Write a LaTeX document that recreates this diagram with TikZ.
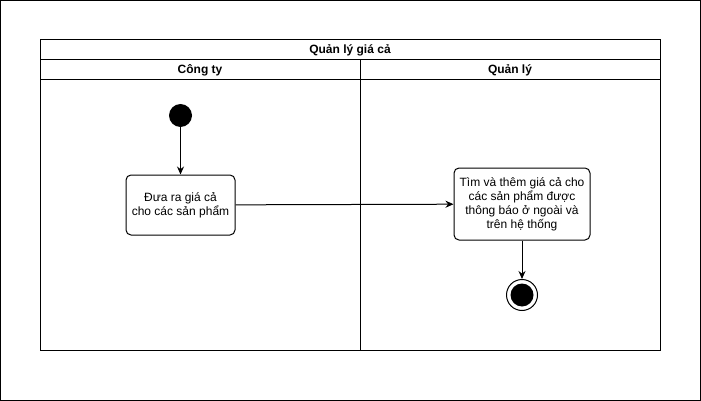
\documentclass[tikz,border=0pt]{standalone}
\usepackage{fontspec}
\setmainfont{Liberation Sans}
\usetikzlibrary{arrows.meta,positioning}

\begin{document}
\begin{tikzpicture}[
x=1pt, y=-1pt,
frame/.style={draw, line width=1pt},
header/.style={font=\bfseries\fontsize{12}{14}\selectfont},
action/.style={draw, line width=1pt, rounded corners=5pt, align=center, inner sep=2pt, font=\fontsize{12}{14}\selectfont},
arrow/.style={-{Stealth[length=8pt,width=7pt]}, line width=1pt}
]
\useasboundingbox (0,0) rectangle (701,401);
\draw[frame] (0.5,0.5) rectangle (700.5,400.5);
% swimlanes
\draw[frame] (40,40) rectangle (660,350);
\draw[frame] (40,60) -- (660,60);
\draw[frame] (40,80) -- (660,80);
\draw[frame] (360,60) -- (360,350);
\node[header] (title) at (350,50) {Quản lý giá cả};
\node[header] (lanecompany) at (200,70) {Công ty};
\node[header] (lanemanager) at (510,70) {Quản lý};
% activity nodes
\node[circle, fill, minimum size=23pt, inner sep=0pt] (start) at (180.5,115.5) {};
\node[action, minimum width=109pt, minimum height=60pt] (offer) at (180.5,205) {Đưa ra giá cả\\cho các sản phẩm};
\node[action, minimum width=136pt, minimum height=72pt] (search) at (522,204) {Tìm và thêm giá cả cho\\các sản phẩm được\\thông báo ở ngoài và\\trên hệ thống};
\node[circle, draw, line width=1pt, minimum size=31pt, inner sep=0pt] (final) at (522,295) {};
\node[circle, fill, minimum size=23pt, inner sep=0pt] (finaldot) at (final) {};
\draw[arrow] (start) -- (offer);
\draw[arrow] (offer) -- (search);
\draw[arrow] (search) -- (final);
\end{tikzpicture}
\end{document}
